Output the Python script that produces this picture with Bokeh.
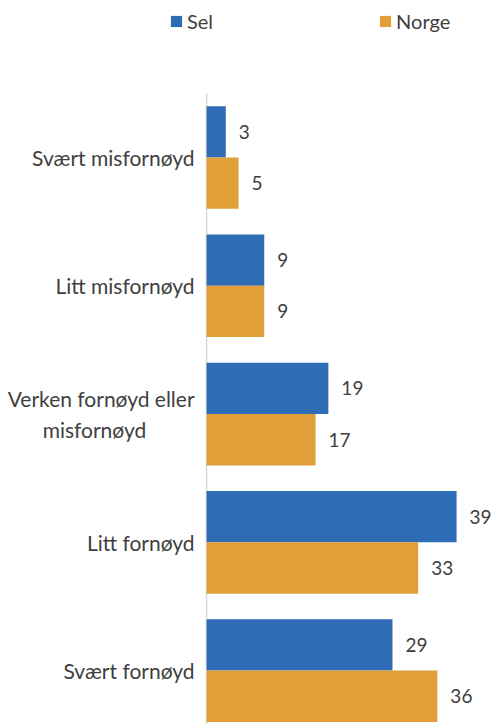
import numpy as np
from bokeh.plotting import figure
from bokeh.models import (ColumnDataSource, Range1d, LabelSet, Legend, LegendItem)
from bokeh.core.properties import value
from bokeh.embed import file_html
from bokeh.resources import INLINE

categories = ["Svært misfornøyd", "Litt misfornøyd", "Verken fornøyd eller\nmisfornøyd\u00a0\u00a0\u00a0\u00a0\u00a0\u00a0\u00a0\u00a0\u00a0",
              "Litt fornøyd", "Svært fornøyd"]
sel = [3, 9, 19, 39, 29]
norge = [5, 9, 17, 33, 36]
series_names = ["Sel", "Norge"]
colors = ["#2E6DB5", "#E09F38"]

FONT = "Lato"
TXT = "#404040"

pos = np.arange(len(categories))
src_sel = ColumnDataSource(dict(y=pos - 0.2, v=sel, t=[str(v) for v in sel]))
src_nor = ColumnDataSource(dict(y=pos + 0.2, v=norge, t=[str(v) for v in norge]))
src_cat = ColumnDataSource(dict(y=pos, x=np.zeros(len(pos)), c=categories))

Y_TOP = -1.224      # room above first category for the legend
Y_BOTTOM = 4.42
cat_top = pos[0] - 0.5

p = figure(width=492, height=724, output_backend="svg", toolbar_location=None,
           x_range=Range1d(-32.14, 44.6), y_range=Range1d(Y_BOTTOM, Y_TOP),
           x_axis_location=None, y_axis_location=None,
           min_border_left=0, min_border_right=0, min_border_top=0, min_border_bottom=0)
p.outline_line_color = None
p.xgrid.visible = False
p.ygrid.visible = False

# vertical category axis line
p.segment(x0=0, y0=cat_top, x1=0, y1=Y_BOTTOM, line_color="#D9D9D9", line_width=1.5)

r1 = p.hbar(y="y", left=0, right="v", height=0.4, source=src_sel, color=colors[0], line_color=None)
r2 = p.hbar(y="y", left=0, right="v", height=0.4, source=src_nor, color=colors[1], line_color=None)

# category labels
p.text(x="x", y="y", text="c", source=src_cat, x_offset=-12,
       text_align="right", text_baseline="middle", text_font=value(FONT),
       text_font_size="21px", text_color=TXT, text_line_height=1.25)

for src in (src_sel, src_nor):
    p.add_layout(LabelSet(x="v", y="y", text="t", source=src, x_offset=13,
                          text_align="left", text_baseline="middle",
                          text_font=value(FONT), text_font_size="19px", text_color=TXT))

legend = Legend(items=[LegendItem(label=series_names[0], renderers=[r1]),
                       LegendItem(label=series_names[1], renderers=[r2])],
                orientation="horizontal", location=(169, 691), spacing=165,
                glyph_width=14, glyph_height=14, label_standoff=4,
                label_text_font=FONT, label_text_font_size="20px", label_text_color=TXT,
                border_line_color=None, background_fill_alpha=0, padding=0, margin=0)
p.add_layout(legend, "center")

open("out.html", "w").write(file_html(p, INLINE))
